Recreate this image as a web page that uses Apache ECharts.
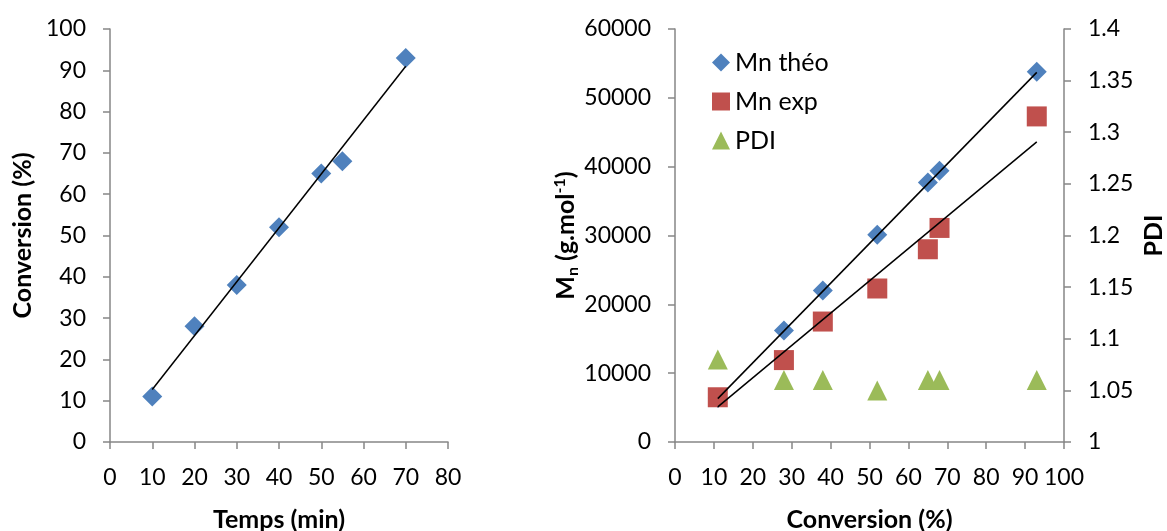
<!DOCTYPE html>
<html>
<head>
<meta charset="utf-8">
<script src="https://cdn.jsdelivr.net/npm/echarts@6/dist/echarts.min.js"></script>
<style>
  html, body { margin: 0; padding: 0; background: #fff; }
  #chart { width: 1167px; height: 531px; }
</style>
</head>
<body>
<div id="chart"></div>
<script>
// ---- Left chart data ----
const timeMin = [10, 20, 30, 40, 50, 55, 70];
const conversionPct = [11, 28, 38, 52, 65, 68, 93];
const trendConvTime = [[10, 12.7], [70, 91]];

// ---- Right chart data ----
const conversionR = [11, 28, 38, 52, 65, 68, 93];
const mnTheo = [6400, 16200, 22000, 30100, 37700, 39400, 53800];
const mnExp = [6500, 11900, 17500, 22300, 28000, 31100, 47300];
const pdi = [1.08, 1.06, 1.06, 1.05, 1.06, 1.06, 1.06];
const trendTheo = [[11, 6300], [93, 53700]];
const trendExp = [[11, 5100], [93, 43600]];

const legendNames = ['Mn théo', 'Mn exp', 'PDI'];

const FONT = 'Lato';
const AX = '#868686';
const zip = (a, b) => a.map((v, i) => [v, b[i]]);

const yLabel = { color: '#000', fontSize: 23, fontFamily: FONT, margin: 24, padding: [2, 0, 0, 0],
  formatter: v => String(+v.toFixed(2)) };
const xLabel = { color: '#000', fontSize: 23, fontFamily: FONT, margin: 24 };

function axisBase(extra) {
  return Object.assign({
    type: 'value',
    axisLine: { show: true, lineStyle: { color: AX, width: 1.5 } },
    axisTick: { show: true, inside: false, length: 7, lineStyle: { color: AX, width: 1.5 } },
    splitLine: { show: false },
    axisLabel: yLabel,
    nameTextStyle: { color: '#000', fontSize: 25, fontWeight: 'bold', fontFamily: FONT },
    nameLocation: 'middle'
  }, extra);
}

const chart = echarts.init(document.getElementById('chart'), null, { renderer: 'canvas' });

chart.setOption({
  animation: false,
  backgroundColor: '#fff',
  grid: [
    { left: 110, top: 29, right: 719, bottom: 89, outerBoundsMode: 'none', containLabel: false },
    { left: 675, top: 29, right: 103, bottom: 89, outerBoundsMode: 'none', containLabel: false }
  ],
  legend: {
    data: legendNames,
    orient: 'vertical',
    left: 707,
    top: 45,
    itemWidth: 18,
    itemHeight: 18,
    itemGap: 14,
    textStyle: { fontSize: 25, fontFamily: FONT, color: '#000', lineHeight: 24 }
  },
  xAxis: [
    axisBase({ gridIndex: 0, min: 0, max: 80, interval: 10, name: 'Temps (min)', nameGap: 65, axisLabel: xLabel }),
    axisBase({ gridIndex: 1, min: 0, max: 100, interval: 10, name: 'Conversion (%)', nameGap: 65, axisLabel: xLabel })
  ],
  yAxis: [
    axisBase({ gridIndex: 0, min: 0, max: 100, interval: 10, name: 'Conversion (%)', nameGap: 75, nameRotate: 90 }),
    axisBase({ gridIndex: 1, min: 0, max: 60000, interval: 10000, nameGap: 77, nameRotate: 90,
      name: '{b|M}{s|n}{b| (g.mol}{p|-1}{b|)}',
      axisLabel: Object.assign({}, yLabel, { formatter: v => String(v) }),
      nameTextStyle: {
        color: '#000', fontFamily: FONT,
        rich: {
          b: { fontSize: 25, fontWeight: 'bold', fontFamily: FONT, color: '#000' },
          s: { fontSize: 16, fontWeight: 'bold', fontFamily: FONT, color: '#000', padding: [13, 0, 0, 0] },
          p: { fontSize: 16, fontWeight: 'bold', fontFamily: FONT, color: '#000', padding: [0, 0, 13, 0] }
        }
      } }),
    axisBase({ gridIndex: 1, min: 1, max: 1.4, interval: 0.05, position: 'right', name: 'PDI', nameGap: 77, nameRotate: 90 })
  ],
  series: [
    {
      type: 'scatter', name: 'Conversion', xAxisIndex: 0, yAxisIndex: 0,
      symbol: 'diamond', symbolSize: 20, itemStyle: { color: '#4F81BD', opacity: 1 },
      data: zip(timeMin, conversionPct), z: 2
    },
    {
      type: 'line', name: 'trend1', xAxisIndex: 0, yAxisIndex: 0, symbol: 'none', silent: true,
      lineStyle: { color: '#000', width: 1.5 }, data: trendConvTime, z: 5
    },
    {
      type: 'scatter', name: 'Mn théo', xAxisIndex: 1, yAxisIndex: 1,
      symbol: 'diamond', symbolSize: 20, itemStyle: { color: '#4F81BD', opacity: 1 },
      data: zip(conversionR, mnTheo), z: 2
    },
    {
      type: 'scatter', name: 'Mn exp', xAxisIndex: 1, yAxisIndex: 1,
      symbol: 'rect', symbolSize: 20, itemStyle: { color: '#C0504D', opacity: 1 },
      data: zip(conversionR, mnExp), z: 3
    },
    {
      type: 'scatter', name: 'PDI', xAxisIndex: 1, yAxisIndex: 2,
      symbol: 'triangle', symbolSize: 20, itemStyle: { color: '#9BBB59', opacity: 1 },
      data: zip(conversionR, pdi), z: 3
    },
    {
      type: 'line', name: 'trendTheo', xAxisIndex: 1, yAxisIndex: 1, symbol: 'none', silent: true,
      lineStyle: { color: '#000', width: 1.5 }, data: trendTheo, z: 5
    },
    {
      type: 'line', name: 'trendExp', xAxisIndex: 1, yAxisIndex: 1, symbol: 'none', silent: true,
      lineStyle: { color: '#000', width: 1.5 }, data: trendExp, z: 5
    }
  ]
});
</script>
</body>
</html>
